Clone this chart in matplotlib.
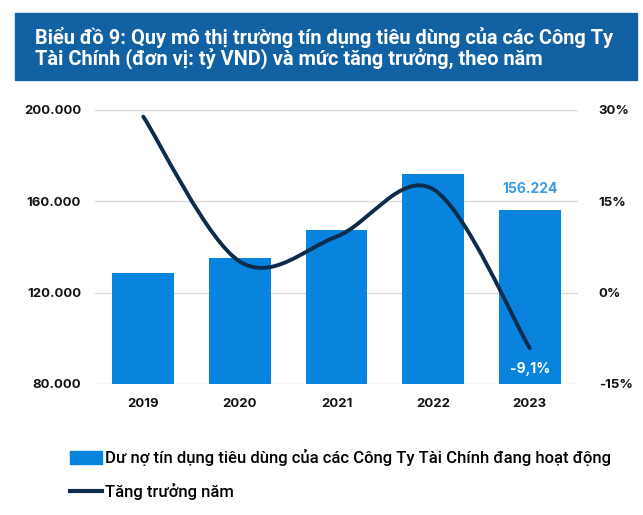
import matplotlib.pyplot as plt
from matplotlib.path import Path
from matplotlib.patches import PathPatch, Rectangle
from matplotlib.lines import Line2D
from matplotlib.ticker import FuncFormatter

years = ["2019", "2020", "2021", "2022", "2023"]
du_no = [128600, 135200, 147400, 171900, 156224]   # tỷ VND
tang_truong = [28.9, 5.1, 9.2, 17.0, -9.1]         # %

BAR_COLOR = "#0884DF"
LINE_COLOR = "#0D2B4B"
BAND_COLOR = "#1261A2"
GRID_COLOR = "#DADADA"

TITLE_FONT = "Roboto"
TICK_FONT = "Inter"


def smooth_path(xs, ys):
    # excel-style smoothed line: catmull-rom segments as cubic bezier
    verts = [(xs[0], ys[0])]
    codes = [Path.MOVETO]
    n = len(xs)
    for i in range(n - 1):
        x0, y0 = (xs[i - 1], ys[i - 1]) if i > 0 else (xs[i], ys[i])
        x1, y1 = xs[i], ys[i]
        x2, y2 = xs[i + 1], ys[i + 1]
        x3, y3 = (xs[i + 2], ys[i + 2]) if i + 2 < n else (x2, y2)
        c1 = (x1 + (x2 - x0) / 6, y1 + (y2 - y0) / 6)
        c2 = (x2 - (x3 - x1) / 6, y2 - (y3 - y1) / 6)
        verts += [c1, c2, (x2, y2)]
        codes += [Path.CURVE4] * 3
    return Path(verts, codes)


fig = plt.figure(figsize=(6.43, 5.15), dpi=100)

# title band
fig.patches.append(Rectangle((15 / 643, 1 - 80 / 515), 622 / 643, 67 / 515,
                             transform=fig.transFigure, color=BAND_COLOR, zorder=0))
fig.text(35 / 643, 1 - 37 / 515, "Biểu đồ 9: Quy mô thị trường tín dụng tiêu dùng của các Công Ty",
         color="white", fontsize=14.4, fontweight="bold", family=TITLE_FONT, va="center")
fig.text(35 / 643, 1 - 59 / 515, "Tài Chính (đơn vị: tỷ VND) và mức tăng trưởng, theo năm",
         color="white", fontsize=14.4, fontweight="bold", family=TITLE_FONT, va="center")

ax = fig.add_axes([95 / 643, 1 - 384 / 515, 483 / 643, 274 / 515])
x = list(range(len(years)))
bars = ax.bar(x, du_no, width=0.64, color=BAR_COLOR, zorder=2)
ax.set_xlim(-0.5, len(years) - 0.5)
ax.set_ylim(80000, 200000)
ax.set_yticks([80000, 120000, 160000, 200000])
ax.yaxis.set_major_formatter(FuncFormatter(lambda v, p: f"{int(v):,}".replace(",", ".")))
ax.set_xticks(x)
ax.set_xticklabels(years)
ax.grid(axis="y", color=GRID_COLOR, linewidth=1, zorder=0)
ax.set_axisbelow(True)
for s in ax.spines.values():
    s.set_visible(False)
ax.tick_params(length=0, pad=10)
for lab in ax.get_xticklabels() + ax.get_yticklabels():
    lab.set_family(TICK_FONT)
    lab.set_fontweight("bold")
    lab.set_fontsize(9.5)
    lab.set_color("#111111")

ax.annotate(f"{du_no[-1]:,}".replace(",", "."), (x[-1], du_no[-1]), xytext=(0, 10),
            textcoords="offset points", ha="center", va="bottom",
            color="#3C9BE5", fontsize=10, fontweight="bold", family=TICK_FONT)

ax2 = ax.twinx()
ax2.set_ylim(-15, 30)
ax2.set_yticks([-15, 0, 15, 30])
ax2.yaxis.set_major_formatter(FuncFormatter(lambda v, p: f"{int(v)}%"))
for s in ax2.spines.values():
    s.set_visible(False)
ax2.tick_params(length=0, pad=15)
for lab in ax2.get_yticklabels():
    lab.set_family(TICK_FONT)
    lab.set_fontweight("bold")
    lab.set_fontsize(9.5)
    lab.set_color("#111111")

ax2.add_patch(PathPatch(smooth_path(x, tang_truong), fill=False, edgecolor=LINE_COLOR,
                        linewidth=2.8, capstyle="round", zorder=3))
ax2.annotate(f"{tang_truong[-1]:.1f}%".replace(".", ","), (x[-1], tang_truong[-1]),
             xytext=(0, -15), textcoords="offset points", ha="center", va="center",
             color="white", fontsize=10, fontweight="bold", family=TICK_FONT)

handles = [Rectangle((0, 0), 1, 1, color=BAR_COLOR),
           Line2D([], [], color=LINE_COLOR, linewidth=3)]
labels = ["Dư nợ tín dụng tiêu dùng của các Công Ty Tài Chính đang hoạt động",
          "Tăng trưởng năm"]
fig.legend(handles, labels, loc="upper left", bbox_to_anchor=(55 / 643, 1 - 434 / 515),
           frameon=False, handlelength=1.9, handleheight=0.8, handletextpad=0.2,
           labelspacing=1.05, prop={"family": TITLE_FONT, "weight": "medium", "size": 12})

fig.savefig("out.png", dpi=100)
